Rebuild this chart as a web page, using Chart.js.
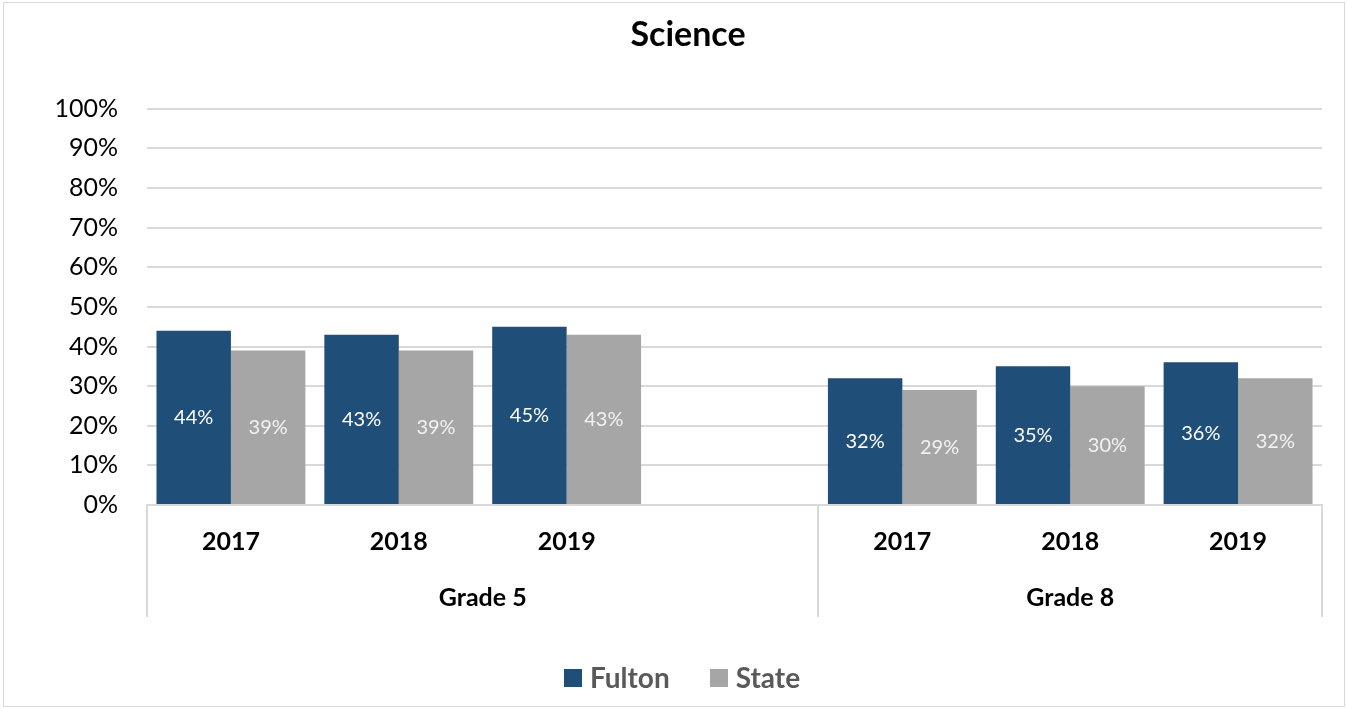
<!DOCTYPE html>
<html>
<head>
<meta charset="utf-8">
<title>Science</title>
<script src="https://cdn.jsdelivr.net/npm/chart.js@4"></script>
<style>
  html, body { margin: 0; padding: 0; background: #fff; }
</style>
</head>
<body>
<canvas id="chart" width="1347" height="709"></canvas>
<script>
// --- data ---
const years = ['2017', '2018', '2019', '', '2017', '2018', '2019'];
const fulton = [44, 43, 45, null, 32, 35, 36];
const state = [39, 39, 43, null, 29, 30, 32];
// grade groups: label + first/last category index
const groups = [
    { label: 'Grade 5', from: 0, to: 3 },
    { label: 'Grade 8', from: 4, to: 6 }
];
const yTicks = [0, 10, 20, 30, 40, 50, 60, 70, 80, 90, 100];

const FONT = 'Lato, "Open Sans", sans-serif';

// white value labels in the middle of each bar
const barLabels = {
    id: 'barLabels',
    afterDatasetsDraw(chart) {
        const ctx = chart.ctx;
        ctx.save();
        ctx.font = '20px ' + FONT;
        ctx.textAlign = 'center';
        ctx.textBaseline = 'middle';
        chart.data.datasets.forEach((ds, di) => {
            const meta = chart.getDatasetMeta(di);
            ctx.fillStyle = di === 0 ? '#ffffff' : '#f2f2f2';
            meta.data.forEach((bar, i) => {
                const v = ds.data[i];
                if (v == null) return;
                ctx.fillText(v + '%', bar.x, (bar.y + bar.base) / 2);
            });
        });
        ctx.restore();
    }
};

// two-level category axis, legend and outer frame
const groupAxis = {
    id: 'groupAxis',
    beforeDraw(chart) {
        const ctx = chart.ctx;
        ctx.save();
        ctx.fillStyle = '#fff';
        ctx.fillRect(0, 0, chart.width, chart.height);
        ctx.strokeStyle = '#d9d9d9';
        ctx.lineWidth = 1;
        ctx.strokeRect(3.5, 2.5, chart.width - 6, chart.height - 5);
        ctx.restore();
    },
    afterDraw(chart) {
        const ctx = chart.ctx;
        const x = chart.scales.x;
        const bottom = chart.chartArea.bottom;
        const w = x.width / years.length;
        const edge = i => x.getPixelForValue(i) - w / 2;

        ctx.save();
        ctx.strokeStyle = '#d9d9d9';
        ctx.lineWidth = 2;
        const seps = [edge(0)];
        groups.forEach(g => seps.push(edge(g.to + 1)));
        seps.forEach(px => {
            ctx.beginPath();
            ctx.moveTo(Math.round(px), bottom);
            ctx.lineTo(Math.round(px), bottom + 112);
            ctx.stroke();
        });

        ctx.fillStyle = '#000';
        ctx.textAlign = 'center';
        ctx.textBaseline = 'middle';
        ctx.font = 'bold 25px ' + FONT;
        years.forEach((yr, i) => {
            if (yr) ctx.fillText(yr, x.getPixelForValue(i), bottom + 37);
        });
        groups.forEach(g => {
            const mid = (edge(g.from) + edge(g.to + 1)) / 2;
            ctx.fillText(g.label, mid, bottom + 93);
        });

        // legend (Excel style: small square, wide gap between items)
        ctx.font = 'bold 28px ' + FONT;
        ctx.textAlign = 'left';
        const box = 18, gap = 8, itemGap = 40, ly = 678;
        const items = chart.data.datasets.map(ds => ({
            text: ds.label, color: ds.backgroundColor, tw: ctx.measureText(ds.label).width
        }));
        let total = items.reduce((s, it) => s + box + gap + it.tw, 0) + itemGap * (items.length - 1);
        let lx = 682 - total / 2;
        items.forEach(it => {
            ctx.fillStyle = it.color;
            ctx.fillRect(Math.round(lx), ly - box / 2, box, box);
            ctx.fillStyle = '#595959';
            ctx.fillText(it.text, lx + box + gap, ly + 1);
            lx += box + gap + it.tw + itemGap;
        });
        ctx.restore();
    }
};

new Chart(document.getElementById('chart'), {
    type: 'bar',
    data: {
        labels: years,
        datasets: [
            { label: 'Fulton', data: fulton, backgroundColor: '#1f4e79', borderWidth: 0 },
            { label: 'State', data: state, backgroundColor: '#a6a6a6', borderWidth: 0 }
        ]
    },
    options: {
        responsive: false,
        animation: false,
        categoryPercentage: 0.887,
        barPercentage: 1,
        // left padding shifts the title centre to match the original
        layout: { padding: { left: 54, right: 25, top: 0, bottom: 0 } },
        plugins: {
            title: {
                display: true,
                text: 'Science',
                color: '#000',
                font: { family: FONT, size: 34, weight: 'bold' },
                padding: { top: 15, bottom: 53 }
            },
            legend: { display: false },
            tooltip: { enabled: false }
        },
        scales: {
            x: {
                grid: { display: false },
                border: { display: true, color: '#d9d9d9', width: 2 },
                ticks: { display: false },
                afterFit(scale) { scale.height = 204; }
            },
            y: {
                min: 0,
                max: 100,
                afterBuildTicks(scale) { scale.ticks = yTicks.map(v => ({ value: v })); },
                grid: { color: '#d9d9d9', lineWidth: 2, drawTicks: false },
                border: { display: false },
                ticks: {
                    color: '#000',
                    font: { family: FONT, size: 25 },
                    padding: 29,
                    callback: v => v + '%'
                },
                afterFit(scale) { scale.width = 93; }
            }
        }
    },
    plugins: [barLabels, groupAxis]
});
</script>
</body>
</html>
